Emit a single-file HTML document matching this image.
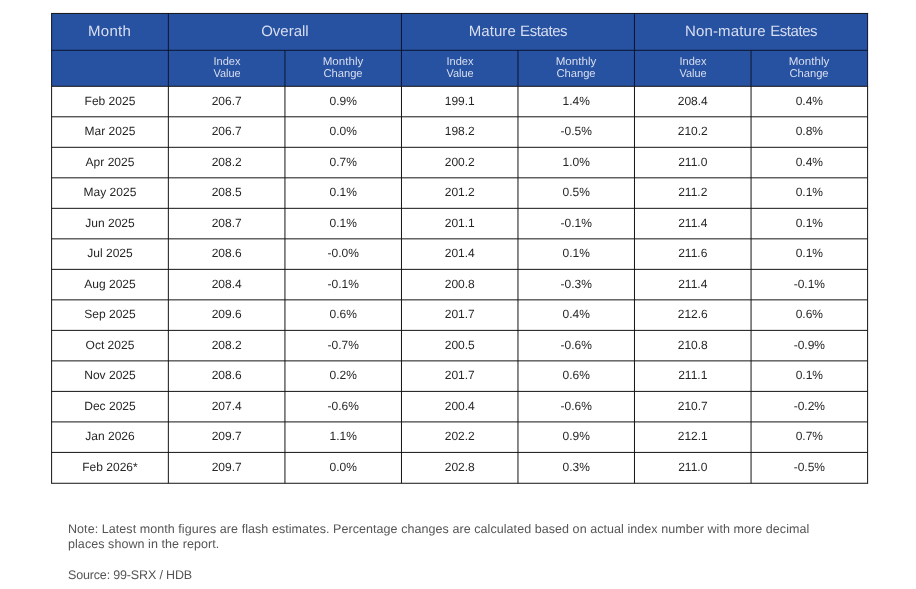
<!DOCTYPE html>
<html lang="en">
<head>
<meta charset="utf-8">
<title>HDB Resale Price Index</title>
<style>
html,body{margin:0;padding:0;background:#fff;}
body{width:916px;height:589px;position:relative;overflow:hidden;font-family:"Liberation Sans",sans-serif;text-rendering:geometricPrecision;}
#grid{position:absolute;left:0;top:0;width:916px;height:589px;}
.t,.n{position:absolute;white-space:nowrap;line-height:20px;margin:0;}
.t{text-align:center;transform-origin:0 50%;}
.n{left:68px;transform-origin:0 50%;font-size:12.5px;color:#555555;}
.h{font-size:15px;color:#d8def0;}
.s{font-size:11.3px;color:#d8def0;}
.b{font-size:12px;color:#262626;}
</style>
</head>
<body>
<svg id="grid" width="916" height="589" viewBox="0 0 916 589">
<rect x="51.6" y="13.45" width="816" height="72.85" fill="#2752a1"/>
<g stroke="#141414" stroke-width="1.0">
<line x1="51.6" y1="116.81" x2="867.6" y2="116.81"/>
<line x1="51.6" y1="147.32" x2="867.6" y2="147.32"/>
<line x1="51.6" y1="177.83" x2="867.6" y2="177.83"/>
<line x1="51.6" y1="208.34" x2="867.6" y2="208.34"/>
<line x1="51.6" y1="238.85" x2="867.6" y2="238.85"/>
<line x1="51.6" y1="269.36" x2="867.6" y2="269.36"/>
<line x1="51.6" y1="299.87" x2="867.6" y2="299.87"/>
<line x1="51.6" y1="330.38" x2="867.6" y2="330.38"/>
<line x1="51.6" y1="360.89" x2="867.6" y2="360.89"/>
<line x1="51.6" y1="391.4" x2="867.6" y2="391.4"/>
<line x1="51.6" y1="421.91" x2="867.6" y2="421.91"/>
<line x1="51.6" y1="452.42" x2="867.6" y2="452.42"/>
<line x1="51.1" y1="483.27" x2="868.1" y2="483.27"/>
<line x1="51.6" y1="86.3" x2="51.6" y2="483.27"/>
<line x1="168.35" y1="86.3" x2="168.35" y2="483.27"/>
<line x1="284.95" y1="86.3" x2="284.95" y2="483.27"/>
<line x1="401.47" y1="86.3" x2="401.47" y2="483.27"/>
<line x1="517.98" y1="86.3" x2="517.98" y2="483.27"/>
<line x1="634.47" y1="86.3" x2="634.47" y2="483.27"/>
<line x1="751.05" y1="86.3" x2="751.05" y2="483.27"/>
<line x1="867.6" y1="86.3" x2="867.6" y2="483.27"/>
</g>
<g stroke="#0d1430" stroke-width="1.0">
<line x1="51.6" y1="50.3" x2="867.6" y2="50.3"/>
<line x1="51.6" y1="13.45" x2="51.6" y2="86.3"/>
<line x1="168.35" y1="13.45" x2="168.35" y2="86.3"/>
<line x1="284.95" y1="50.3" x2="284.95" y2="86.3"/>
<line x1="401.47" y1="13.45" x2="401.47" y2="86.3"/>
<line x1="517.98" y1="50.3" x2="517.98" y2="86.3"/>
<line x1="634.47" y1="13.45" x2="634.47" y2="86.3"/>
<line x1="751.05" y1="50.3" x2="751.05" y2="86.3"/>
<line x1="867.6" y1="13.45" x2="867.6" y2="86.3"/>
</g>
<g stroke="#141414" stroke-width="1.0">
<line x1="51.1" y1="13.45" x2="868.1" y2="13.45"/>
<line x1="51.1" y1="86.3" x2="868.1" y2="86.3"/>
</g>
</svg>
<div class="t h" style="left:109.57px;top:22px;transform:translateX(-50%);letter-spacing:0.3px">Month</div>
<div class="t h" style="left:284.91px;top:22px;transform:translateX(-50%)">Overall</div>
<div class="t h" style="left:517.97px;top:22px;transform:translateX(-50%);letter-spacing:0.06px">Mature <span style="letter-spacing:-0.42px">Estates</span></div>
<div class="t h" style="left:751.04px;top:22px;transform:translateX(-50%);letter-spacing:0.17px">Non-mature <span style="letter-spacing:-0.43px">Estates</span></div>
<div class="t s" style="left:226.65px;top:52px;transform:scaleX(0.977) translateX(-50%)">Index</div>
<div class="t s" style="left:226.65px;top:64px;transform:scaleX(0.967) translateX(-50%)">Value</div>
<div class="t s" style="left:343.21px;top:52px;transform:scaleX(1.026) translateX(-50%)">Monthly</div>
<div class="t s" style="left:343.21px;top:64px;transform:scaleX(0.99) translateX(-50%)">Change</div>
<div class="t s" style="left:459.73px;top:52px;transform:scaleX(0.977) translateX(-50%)">Index</div>
<div class="t s" style="left:459.73px;top:64px;transform:scaleX(0.967) translateX(-50%)">Value</div>
<div class="t s" style="left:576.23px;top:52px;transform:scaleX(1.026) translateX(-50%)">Monthly</div>
<div class="t s" style="left:576.23px;top:64px;transform:scaleX(0.99) translateX(-50%)">Change</div>
<div class="t s" style="left:692.76px;top:52px;transform:scaleX(0.977) translateX(-50%)">Index</div>
<div class="t s" style="left:692.76px;top:64px;transform:scaleX(0.967) translateX(-50%)">Value</div>
<div class="t s" style="left:809.33px;top:52px;transform:scaleX(1.026) translateX(-50%)">Monthly</div>
<div class="t s" style="left:809.33px;top:64px;transform:scaleX(0.99) translateX(-50%)">Change</div>
<div class="t b" style="left:109.97px;top:91px;transform:translateX(-50%)">Feb 2025</div>
<div class="t b" style="left:226.65px;top:91px;transform:translateX(-50%)">206.7</div>
<div class="t b" style="left:343.21px;top:91px;transform:translateX(-50%)">0.9%</div>
<div class="t b" style="left:459.73px;top:91px;transform:translateX(-50%)">199.1</div>
<div class="t b" style="left:576.23px;top:91px;transform:translateX(-50%)">1.4%</div>
<div class="t b" style="left:692.76px;top:91px;transform:translateX(-50%)">208.4</div>
<div class="t b" style="left:809.33px;top:91px;transform:translateX(-50%)">0.4%</div>
<div class="t b" style="left:109.97px;top:121px;transform:translateX(-50%)">Mar 2025</div>
<div class="t b" style="left:226.65px;top:121px;transform:translateX(-50%)">206.7</div>
<div class="t b" style="left:343.21px;top:121px;transform:translateX(-50%)">0.0%</div>
<div class="t b" style="left:459.73px;top:121px;transform:translateX(-50%)">198.2</div>
<div class="t b" style="left:576.23px;top:121px;transform:translateX(-50%)">-0.5%</div>
<div class="t b" style="left:692.76px;top:121px;transform:translateX(-50%)">210.2</div>
<div class="t b" style="left:809.33px;top:121px;transform:translateX(-50%)">0.8%</div>
<div class="t b" style="left:109.97px;top:152px;transform:translateX(-50%)">Apr 2025</div>
<div class="t b" style="left:226.65px;top:152px;transform:translateX(-50%)">208.2</div>
<div class="t b" style="left:343.21px;top:152px;transform:translateX(-50%)">0.7%</div>
<div class="t b" style="left:459.73px;top:152px;transform:translateX(-50%)">200.2</div>
<div class="t b" style="left:576.23px;top:152px;transform:translateX(-50%)">1.0%</div>
<div class="t b" style="left:692.76px;top:152px;transform:translateX(-50%)">211.0</div>
<div class="t b" style="left:809.33px;top:152px;transform:translateX(-50%)">0.4%</div>
<div class="t b" style="left:109.97px;top:182px;transform:translateX(-50%)">May 2025</div>
<div class="t b" style="left:226.65px;top:182px;transform:translateX(-50%)">208.5</div>
<div class="t b" style="left:343.21px;top:182px;transform:translateX(-50%)">0.1%</div>
<div class="t b" style="left:459.73px;top:182px;transform:translateX(-50%)">201.2</div>
<div class="t b" style="left:576.23px;top:182px;transform:translateX(-50%)">0.5%</div>
<div class="t b" style="left:692.76px;top:182px;transform:translateX(-50%)">211.2</div>
<div class="t b" style="left:809.33px;top:182px;transform:translateX(-50%)">0.1%</div>
<div class="t b" style="left:109.97px;top:213px;transform:translateX(-50%)">Jun 2025</div>
<div class="t b" style="left:226.65px;top:213px;transform:translateX(-50%)">208.7</div>
<div class="t b" style="left:343.21px;top:213px;transform:translateX(-50%)">0.1%</div>
<div class="t b" style="left:459.73px;top:213px;transform:translateX(-50%)">201.1</div>
<div class="t b" style="left:576.23px;top:213px;transform:translateX(-50%)">-0.1%</div>
<div class="t b" style="left:692.76px;top:213px;transform:translateX(-50%)">211.4</div>
<div class="t b" style="left:809.33px;top:213px;transform:translateX(-50%)">0.1%</div>
<div class="t b" style="left:109.97px;top:243px;transform:translateX(-50%)">Jul 2025</div>
<div class="t b" style="left:226.65px;top:243px;transform:translateX(-50%)">208.6</div>
<div class="t b" style="left:343.21px;top:243px;transform:translateX(-50%)">-0.0%</div>
<div class="t b" style="left:459.73px;top:243px;transform:translateX(-50%)">201.4</div>
<div class="t b" style="left:576.23px;top:243px;transform:translateX(-50%)">0.1%</div>
<div class="t b" style="left:692.76px;top:243px;transform:translateX(-50%)">211.6</div>
<div class="t b" style="left:809.33px;top:243px;transform:translateX(-50%)">0.1%</div>
<div class="t b" style="left:109.97px;top:274px;transform:translateX(-50%)">Aug 2025</div>
<div class="t b" style="left:226.65px;top:274px;transform:translateX(-50%)">208.4</div>
<div class="t b" style="left:343.21px;top:274px;transform:translateX(-50%)">-0.1%</div>
<div class="t b" style="left:459.73px;top:274px;transform:translateX(-50%)">200.8</div>
<div class="t b" style="left:576.23px;top:274px;transform:translateX(-50%)">-0.3%</div>
<div class="t b" style="left:692.76px;top:274px;transform:translateX(-50%)">211.4</div>
<div class="t b" style="left:809.33px;top:274px;transform:translateX(-50%)">-0.1%</div>
<div class="t b" style="left:109.97px;top:304px;transform:translateX(-50%)">Sep 2025</div>
<div class="t b" style="left:226.65px;top:304px;transform:translateX(-50%)">209.6</div>
<div class="t b" style="left:343.21px;top:304px;transform:translateX(-50%)">0.6%</div>
<div class="t b" style="left:459.73px;top:304px;transform:translateX(-50%)">201.7</div>
<div class="t b" style="left:576.23px;top:304px;transform:translateX(-50%)">0.4%</div>
<div class="t b" style="left:692.76px;top:304px;transform:translateX(-50%)">212.6</div>
<div class="t b" style="left:809.33px;top:304px;transform:translateX(-50%)">0.6%</div>
<div class="t b" style="left:109.97px;top:335px;transform:translateX(-50%)">Oct 2025</div>
<div class="t b" style="left:226.65px;top:335px;transform:translateX(-50%)">208.2</div>
<div class="t b" style="left:343.21px;top:335px;transform:translateX(-50%)">-0.7%</div>
<div class="t b" style="left:459.73px;top:335px;transform:translateX(-50%)">200.5</div>
<div class="t b" style="left:576.23px;top:335px;transform:translateX(-50%)">-0.6%</div>
<div class="t b" style="left:692.76px;top:335px;transform:translateX(-50%)">210.8</div>
<div class="t b" style="left:809.33px;top:335px;transform:translateX(-50%)">-0.9%</div>
<div class="t b" style="left:109.97px;top:365px;transform:translateX(-50%)">Nov 2025</div>
<div class="t b" style="left:226.65px;top:365px;transform:translateX(-50%)">208.6</div>
<div class="t b" style="left:343.21px;top:365px;transform:translateX(-50%)">0.2%</div>
<div class="t b" style="left:459.73px;top:365px;transform:translateX(-50%)">201.7</div>
<div class="t b" style="left:576.23px;top:365px;transform:translateX(-50%)">0.6%</div>
<div class="t b" style="left:692.76px;top:365px;transform:translateX(-50%)">211.1</div>
<div class="t b" style="left:809.33px;top:365px;transform:translateX(-50%)">0.1%</div>
<div class="t b" style="left:109.97px;top:396px;transform:translateX(-50%)">Dec 2025</div>
<div class="t b" style="left:226.65px;top:396px;transform:translateX(-50%)">207.4</div>
<div class="t b" style="left:343.21px;top:396px;transform:translateX(-50%)">-0.6%</div>
<div class="t b" style="left:459.73px;top:396px;transform:translateX(-50%)">200.4</div>
<div class="t b" style="left:576.23px;top:396px;transform:translateX(-50%)">-0.6%</div>
<div class="t b" style="left:692.76px;top:396px;transform:translateX(-50%)">210.7</div>
<div class="t b" style="left:809.33px;top:396px;transform:translateX(-50%)">-0.2%</div>
<div class="t b" style="left:109.97px;top:426px;transform:translateX(-50%)">Jan 2026</div>
<div class="t b" style="left:226.65px;top:426px;transform:translateX(-50%)">209.7</div>
<div class="t b" style="left:343.21px;top:426px;transform:translateX(-50%)">1.1%</div>
<div class="t b" style="left:459.73px;top:426px;transform:translateX(-50%)">202.2</div>
<div class="t b" style="left:576.23px;top:426px;transform:translateX(-50%)">0.9%</div>
<div class="t b" style="left:692.76px;top:426px;transform:translateX(-50%)">212.1</div>
<div class="t b" style="left:809.33px;top:426px;transform:translateX(-50%)">0.7%</div>
<div class="t b" style="left:109.97px;top:457px;transform:translateX(-50%)">Feb 2026*</div>
<div class="t b" style="left:226.65px;top:457px;transform:translateX(-50%)">209.7</div>
<div class="t b" style="left:343.21px;top:457px;transform:translateX(-50%)">0.0%</div>
<div class="t b" style="left:459.73px;top:457px;transform:translateX(-50%)">202.8</div>
<div class="t b" style="left:576.23px;top:457px;transform:translateX(-50%)">0.3%</div>
<div class="t b" style="left:692.76px;top:457px;transform:translateX(-50%)">211.0</div>
<div class="t b" style="left:809.33px;top:457px;transform:translateX(-50%)">-0.5%</div>
<p class="n" style="top:519px;letter-spacing:0.065px">Note: Latest month figures are flash estimates. Percentage changes are calculated based on actual index number with more decimal</p>
<p class="n" style="top:534px;letter-spacing:0.07px">places shown in the report.</p>
<p class="n" style="top:565px;letter-spacing:-0.16px">Source: 99-SRX / HDB</p>
</body>
</html>
